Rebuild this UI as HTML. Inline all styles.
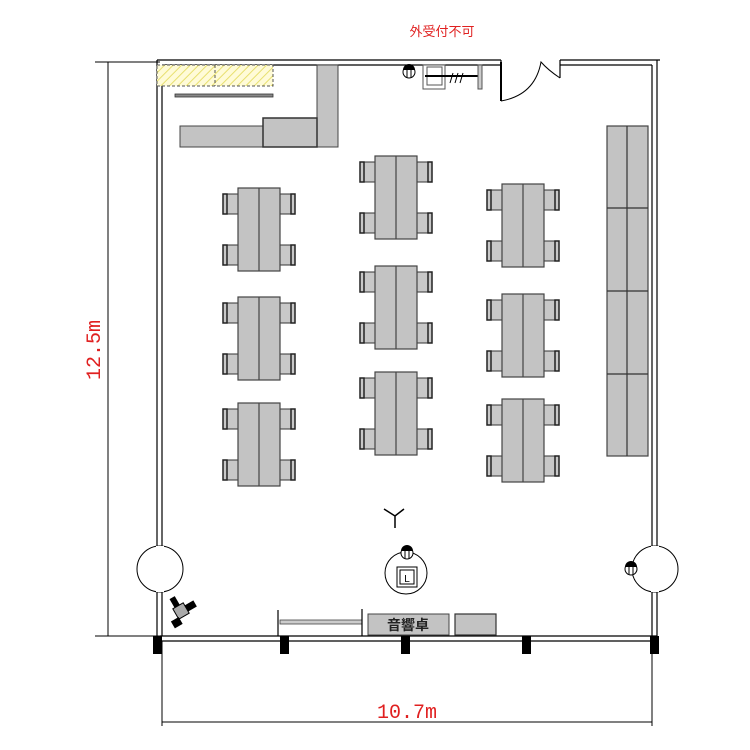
<!DOCTYPE html>
<html><head><meta charset="utf-8"><style>
html,body{margin:0;padding:0;background:#fff;}
svg{display:block;}
</style></head><body>
<svg width="750" height="750" viewBox="0 0 750 750" xmlns="http://www.w3.org/2000/svg">
<defs>
<pattern id="hatch" width="6" height="6" patternUnits="userSpaceOnUse" patternTransform="rotate(45)">
<rect width="6" height="6" fill="#fffbd8"/><line x1="0" y1="0" x2="0" y2="6" stroke="#e8e070" stroke-width="2"/>
</pattern>
<g id="chL">
<rect x="0" y="0" width="15" height="20" fill="#c8c8c8" stroke="#333" stroke-width="1"/>
<rect x="0" y="0" width="4" height="20" fill="#c8c8c8" stroke="#222" stroke-width="1.5"/>
</g>
<g id="chR">
<rect x="0" y="0" width="15" height="20" fill="#c8c8c8" stroke="#333" stroke-width="1"/>
<rect x="11" y="0" width="4" height="20" fill="#c8c8c8" stroke="#222" stroke-width="1.5"/>
</g>
<g id="tbl">
<use href="#chL" x="-15" y="6"/><use href="#chL" x="-15" y="57"/>
<use href="#chR" x="42" y="6"/><use href="#chR" x="42" y="57"/>
<rect x="0" y="0" width="42" height="83" fill="#c3c3c3" stroke="#444" stroke-width="1.2"/>
<line x1="21" y1="0" x2="21" y2="83" stroke="#444" stroke-width="1.2"/>
</g>
</defs>

<!-- dimension lines -->
<line x1="108" y1="62" x2="108" y2="636" stroke="#000"/>
<line x1="95" y1="62" x2="160" y2="62" stroke="#000"/>
<line x1="95" y1="636" x2="160" y2="636" stroke="#000"/>
<text transform="translate(100,350) rotate(-90)" text-anchor="middle" font-family="Liberation Mono, monospace" font-size="20" fill="#e02020">12.5m</text>
<line x1="162" y1="641" x2="162" y2="726" stroke="#000"/>
<line x1="652" y1="641" x2="652" y2="726" stroke="#000"/>
<line x1="162" y1="722" x2="652" y2="722" stroke="#000"/>
<text x="407" y="718" text-anchor="middle" font-family="Liberation Mono, monospace" font-size="20" fill="#e02020">10.7m</text>
<text x="442" y="36" text-anchor="middle" font-family="Liberation Sans, Noto Sans CJK JP, sans-serif" font-size="13" fill="#e02020">外受付不可</text>

<!-- walls -->
<g fill="none" stroke="#000" stroke-width="1.2">
<line x1="157" y1="60" x2="501" y2="60"/><line x1="162" y1="65" x2="501" y2="65"/>
<line x1="501" y1="60" x2="501" y2="65"/>
<line x1="560" y1="60" x2="660" y2="60"/><line x1="560" y1="65" x2="652" y2="65"/>
<line x1="560" y1="60" x2="560" y2="78"/>
<line x1="157" y1="60" x2="157" y2="636"/><line x1="162" y1="65" x2="162" y2="636"/>
<line x1="652" y1="65" x2="652" y2="636"/><line x1="657" y1="60" x2="657" y2="636"/>
<line x1="160" y1="636" x2="657" y2="636"/><line x1="160" y1="641" x2="657" y2="641"/>
</g>
<line x1="501" y1="62" x2="501" y2="101" stroke="#000" stroke-width="2"/>
<path d="M501,101 Q535,95 541,62 Q548,70 560,78" fill="none" stroke="#000"/>
<circle cx="160" cy="569" r="23" fill="#fff" stroke="#000"/>
<circle cx="655" cy="569" r="23" fill="#fff" stroke="#000"/>
<rect x="156" y="546" width="8" height="46" fill="#fff"/>
<rect x="651" y="546" width="8" height="46" fill="#fff"/>
<g fill="#000">
<rect x="153" y="636" width="9" height="18"/><rect x="280" y="636" width="9" height="18"/>
<rect x="401" y="636" width="9" height="18"/><rect x="522" y="636" width="9" height="18"/>
<rect x="650" y="636" width="9" height="18"/>
</g>

<!-- top-left furniture -->
<rect x="157" y="65" width="116" height="21" fill="url(#hatch)" stroke="#555" stroke-dasharray="3,2"/>
<line x1="215" y1="65" x2="215" y2="86" stroke="#555" stroke-dasharray="3,2"/>
<rect x="175" y="94" width="98" height="3" fill="#888" stroke="#333" stroke-width="0.8"/>
<rect x="317" y="65" width="21" height="82" fill="#c3c3c3" stroke="#444"/>
<rect x="180" y="126" width="83" height="21" fill="#c3c3c3" stroke="#444"/>
<rect x="263" y="118" width="54" height="29" fill="#c3c3c3" stroke="#333" stroke-width="1.5"/>

<!-- top icons -->
<circle cx="409" cy="72" r="6" fill="#fff" stroke="#000"/><path d="M403,70 A6,6 0 0 1 415,70 Z" fill="#000"/>
<line x1="407" y1="68" x2="407" y2="78" stroke="#000"/><line x1="411" y1="68" x2="411" y2="78" stroke="#000"/>
<rect x="423" y="65" width="22" height="24" fill="#fff" stroke="#555"/>
<rect x="427" y="67" width="15" height="18" fill="#fff" stroke="#555"/>
<line x1="425" y1="76" x2="481" y2="76" stroke="#000" stroke-width="2"/>
<rect x="478" y="65" width="4" height="24" fill="#ccc" stroke="#555"/>
<path d="M450,83 l3,-10 M455,83 l3,-10 M460,83 l3,-10" stroke="#000"/>

<!-- tables -->
<use href="#tbl" x="238" y="188"/><use href="#tbl" x="238" y="297"/><use href="#tbl" x="238" y="403"/>
<use href="#tbl" x="375" y="156"/><use href="#tbl" x="375" y="266"/><use href="#tbl" x="375" y="372"/>
<use href="#tbl" x="502" y="184"/><use href="#tbl" x="502" y="294"/><use href="#tbl" x="502" y="399"/>

<!-- right bench -->
<rect x="607" y="126" width="41" height="330" fill="#c3c3c3" stroke="#444" stroke-width="1.2"/>
<g stroke="#333" stroke-width="1.2">
<line x1="627" y1="126" x2="627" y2="456"/>
<line x1="607" y1="208" x2="648" y2="208"/><line x1="607" y1="291" x2="648" y2="291"/><line x1="607" y1="374" x2="648" y2="374"/>
</g>

<!-- bottom items -->
<path d="M384,509 L395,516 L404,509 M395,516 L395,528" fill="none" stroke="#000" stroke-width="1.5"/>
<circle cx="406" cy="573" r="21" fill="#fff" stroke="#000"/>
<circle cx="407" cy="553" r="6" fill="#fff" stroke="#000"/><path d="M401,551 A6,6 0 0 1 413,551 Z" fill="#000"/>
<line x1="405" y1="549" x2="405" y2="559" stroke="#000"/><line x1="409" y1="549" x2="409" y2="559" stroke="#000"/>
<rect x="397" y="567" width="20" height="20" fill="#fff" stroke="#000"/>
<rect x="400" y="570" width="14" height="14" fill="#fff" stroke="#000"/>
<text x="407" y="582" text-anchor="middle" font-family="Liberation Sans, sans-serif" font-size="10">L</text>
<circle cx="631" cy="569" r="6" fill="#fff" stroke="#000"/><path d="M625,567 A6,6 0 0 1 637,567 Z" fill="#000"/>
<line x1="629" y1="565" x2="629" y2="575" stroke="#000"/><line x1="633" y1="565" x2="633" y2="575" stroke="#000"/>
<g transform="translate(181,611) rotate(-30)">
<rect x="-6" y="-6" width="12" height="12" fill="#aaa" stroke="#000"/>
<rect x="-4" y="-16" width="6" height="10" fill="#000"/>
<rect x="6" y="-3" width="10" height="7" fill="#000"/>
<rect x="-14" y="4" width="9" height="8" fill="#000"/>
</g>
<line x1="278" y1="610" x2="278" y2="636" stroke="#000" stroke-width="1.2"/>
<rect x="280" y="620" width="82" height="4" fill="#ccc" stroke="#444" stroke-width="0.8"/>
<line x1="362" y1="609" x2="362" y2="636" stroke="#000" stroke-width="1.2"/>
<rect x="368" y="614" width="81" height="21" fill="#c3c3c3" stroke="#444"/>
<text x="408" y="630" text-anchor="middle" font-family="Liberation Sans, Noto Sans CJK JP, sans-serif" font-size="14" font-weight="bold" fill="#222">音響卓</text>
<rect x="455" y="614" width="41" height="21" fill="#c3c3c3" stroke="#333" stroke-width="1.2"/>
</svg>
</body></html>
